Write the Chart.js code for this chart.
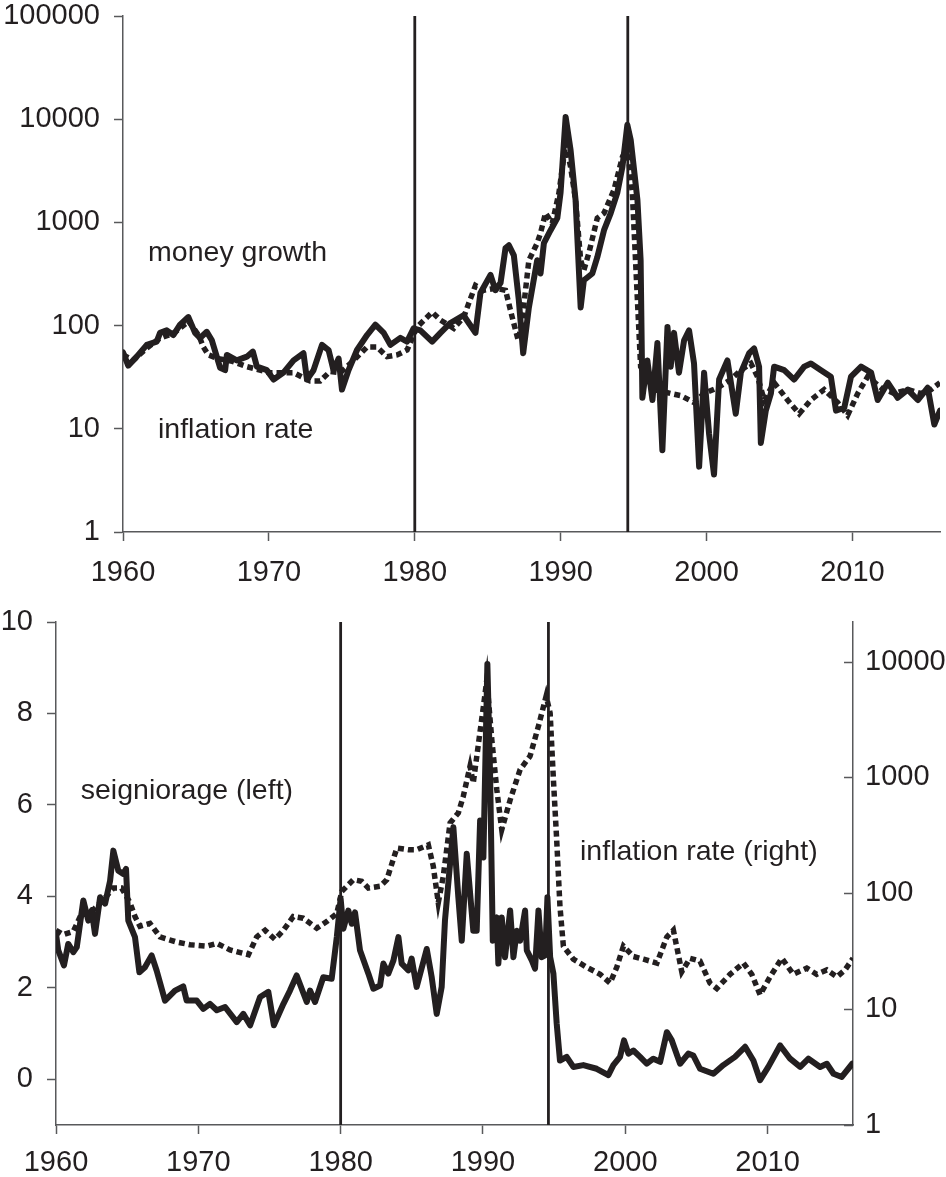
<!DOCTYPE html>
<html>
<head>
<meta charset="utf-8">
<script src="https://cdn.jsdelivr.net/npm/chart.js@4.4.1/dist/chart.umd.min.js"></script>
<style>
  html, body { margin: 0; padding: 0; background: #fff; }
  #wrap { position: relative; width: 946px; height: 1177px; }
  .panel { position: absolute; left: 0; width: 946px; }
</style>
</head>
<body>
<div id="wrap">
  <div class="panel" style="top:0;height:590px"><canvas id="topChart" width="946" height="590"></canvas></div>
  <div class="panel" style="top:590px;height:587px"><canvas id="bottomChart" width="946" height="587"></canvas></div>
</div>
<script>
// Money growth, inflation and seigniorage, 1960-2016 (two stacked panels).

const yearTicks = [1960, 1970, 1980, 1990, 2000, 2010];
const topLogTicks = [1, 10, 100, 1000, 10000, 100000];
const seignTicks = [0, 2, 4, 6, 8, 10];
const rightLogTicks = [1, 10, 100, 1000, 10000];
const breakYears = [1980, 1994.6];

// top panel, solid: money growth (% per year, log scale)
const moneyYears = [1960.0, 1960.36, 1960.94, 1961.63, 1962.31, 1962.54, 1963.0, 1963.45, 1963.91, 1964.48,
  1964.94, 1965.28, 1965.74, 1966.09, 1966.66, 1967.0, 1967.12, 1967.8, 1968.49, 1968.9,
  1969.18, 1969.86, 1970.32, 1971.0, 1971.69, 1972.37, 1972.61, 1973.06, 1973.64, 1974.09,
  1974.43, 1974.78, 1975.01, 1975.46, 1976.04, 1976.73, 1977.3, 1977.87, 1978.33, 1979.01,
  1979.47, 1979.92, 1980.38, 1981.19, 1981.76, 1982.44, 1983.34, 1983.7, 1984.16, 1984.5,
  1985.19, 1985.53, 1985.88, 1986.22, 1986.45, 1986.79, 1987.13, 1987.43, 1987.82, 1988.39,
  1988.62, 1988.85, 1989.31, 1989.77, 1989.99, 1990.34, 1990.68, 1991.02, 1991.37, 1991.59,
  1992.17, 1992.51, 1992.97, 1993.43, 1993.88, 1994.23, 1994.57, 1994.8, 1995.26, 1995.48,
  1995.6, 1995.94, 1996.29, 1996.63, 1996.97, 1997.32, 1997.54, 1997.77, 1998.11, 1998.46,
  1998.8, 1999.14, 1999.49, 1999.83, 2000.17, 2000.51, 2000.86, 2001.43, 2002.0, 2002.35,
  2002.92, 2003.26, 2003.6, 2003.72, 2004.06, 2004.41, 2004.63, 2005.32, 2006.0, 2006.69,
  2007.15, 2007.84, 2008.52, 2008.87, 2009.44, 2009.9, 2010.59, 2011.28, 2011.73, 2012.42,
  2013.1, 2013.79, 2014.48, 2015.16, 2015.61, 2016.0];
const moneyGrowth = [55, 41, 50, 65, 70, 85, 90, 81, 102, 121,
  85, 76, 87, 72, 39, 37, 52, 46, 50, 56,
  40, 37, 30, 35, 46, 54, 30, 37, 65, 58,
  37, 48, 24, 37, 58, 81, 102, 85, 65, 76,
  70, 94, 90, 70, 85, 106, 126, 106, 85, 207,
  310, 220, 260, 565, 600, 480, 177, 54, 150, 430,
  320, 630, 840, 1100, 1930, 10500, 5000, 1650, 150, 275,
  320, 460, 840, 1230, 1930, 3440, 8830, 6300, 1650, 430,
  20, 46, 19, 68, 6.2, 97, 40, 85, 35, 72,
  90, 43, 4.3, 35, 9, 3.6, 30, 46, 14, 35,
  54, 60, 40, 7.3, 15, 22, 40, 37, 30, 40,
  43, 37, 32, 15, 16, 32, 40, 35, 19, 28,
  20, 24, 19, 25, 11, 15];

// top panel, dotted: inflation rate (% per year, log scale)
const inflTopYears = [1960.0, 1960.69, 1961.6, 1962.5, 1963.5, 1964.5, 1965.2, 1965.51, 1965.85, 1966.5,
  1967.5, 1968.49, 1970.09, 1971.69, 1972.83, 1973.51, 1974.2, 1974.89, 1975.81, 1976.73,
  1977.41, 1978.1, 1978.79, 1979.47, 1980.16, 1981.19, 1981.76, 1982.67, 1983.36, 1983.7,
  1984.16, 1984.73, 1985.53, 1986.22, 1986.68, 1987.09, 1987.36, 1987.82, 1988.39, 1988.62,
  1988.96, 1989.42, 1989.88, 1990.34, 1990.68, 1991.02, 1991.37, 1991.59, 1991.94, 1992.51,
  1992.97, 1993.65, 1994.23, 1994.57, 1994.91, 1995.26, 1995.48, 1996.4, 1997.54, 1998.22,
  1999.14, 1999.83, 2000.75, 2001.66, 2002.35, 2003.04, 2003.49, 2003.95, 2004.63, 2005.55,
  2006.35, 2007.15, 2008.06, 2008.98, 2009.67, 2010.36, 2011.04, 2011.96, 2012.87, 2013.79,
  2014.7, 2015.39, 2016.0];
const inflTop = [52, 46, 60, 75, 85, 110, 80, 62, 52, 48,
  45, 40, 35, 35, 29, 29, 36, 35, 46, 62,
  62, 50, 52, 58, 97, 135, 113, 94, 121, 165,
  245, 220, 230, 220, 120, 72, 113, 430, 630, 790,
  1230, 980, 1930, 5800, 3440, 1650, 430, 345, 510, 1100,
  1230, 2060, 4300, 5400, 1930, 177, 40, 24, 22, 21,
  18, 22, 25, 30, 37, 43, 32, 19, 28, 19,
  14, 19, 24, 18, 13.5, 22, 32, 25, 22, 24,
  22, 24, 28];

// bottom panel, solid: seigniorage (% of GDP, left axis)
const seignYears = [1960.0, 1960.16, 1960.56, 1960.86, 1961.22, 1961.46, 1961.92, 1962.27, 1962.51, 1962.74,
  1963.1, 1963.45, 1963.8, 1964.03, 1964.38, 1964.73, 1964.92, 1965.08, 1965.55, 1965.86,
  1966.25, 1966.72, 1967.07, 1967.66, 1968.36, 1968.94, 1969.18, 1969.89, 1970.35, 1970.82,
  1971.3, 1971.88, 1972.7, 1973.16, 1973.64, 1974.34, 1974.92, 1975.31, 1975.98, 1976.44,
  1976.91, 1977.62, 1977.85, 1978.2, 1978.78, 1979.37, 1979.73, 1980.0, 1980.19, 1980.54,
  1980.78, 1981.01, 1981.36, 1981.95, 1982.3, 1982.77, 1983.0, 1983.35, 1983.71, 1984.06,
  1984.29, 1984.76, 1984.99, 1985.34, 1986.05, 1986.4, 1986.75, 1987.1, 1987.33, 1987.92,
  1988.27, 1988.51, 1988.86, 1989.32, 1989.56, 1989.8, 1990.03, 1990.31, 1990.5, 1990.69,
  1990.97, 1991.08, 1991.32, 1991.55, 1991.91, 1992.14, 1992.38, 1992.61, 1992.96, 1993.08,
  1993.43, 1993.66, 1993.9, 1994.13, 1994.37, 1994.53, 1994.72, 1994.95, 1995.18, 1995.41,
  1995.88, 1996.35, 1997.05, 1997.99, 1998.81, 1999.16, 1999.63, 1999.91, 2000.22, 2000.57,
  2001.04, 2001.51, 2001.97, 2002.45, 2002.92, 2003.27, 2003.85, 2004.43, 2004.78, 2005.25,
  2006.19, 2006.89, 2007.71, 2008.42, 2009.0, 2009.47, 2010.05, 2010.88, 2011.58, 2012.29,
  2012.87, 2013.69, 2014.16, 2014.63, 2015.21, 2015.95];
const seigniorage = [3.18, 2.82, 2.49, 2.96, 2.78, 2.89, 3.91, 3.47, 3.69, 3.18,
  3.98, 3.84, 4.34, 5.0, 4.56, 4.49, 4.6, 3.47, 3.11, 2.34,
  2.45, 2.71, 2.38, 1.72, 1.94, 2.03, 1.72, 1.72, 1.54, 1.65,
  1.51, 1.58, 1.25, 1.43, 1.18, 1.8, 1.91, 1.18, 1.65, 1.94,
  2.27, 1.69, 1.94, 1.69, 2.23, 2.2, 3.11, 3.95, 3.29, 3.69,
  3.4, 3.65, 2.82, 2.31, 1.98, 2.05, 2.53, 2.31, 2.6, 3.11,
  2.53, 2.38, 2.64, 2.02, 2.85, 2.23, 1.43, 2.02, 3.47, 5.51,
  3.98, 3.03, 4.93, 3.25, 3.25, 5.66, 4.85, 9.08, 6.67, 3.03,
  3.54, 2.53, 3.54, 2.67, 3.69, 2.67, 3.25, 3.03, 3.69, 2.82,
  2.6, 2.42, 3.69, 2.67, 2.71, 3.98, 2.67, 2.31, 1.22, 0.41,
  0.49, 0.27, 0.31, 0.23, 0.09, 0.31, 0.49, 0.85, 0.56, 0.63,
  0.49, 0.34, 0.45, 0.38, 1.03, 0.85, 0.34, 0.56, 0.52, 0.23,
  0.12, 0.31, 0.49, 0.71, 0.41, -0.02, 0.27, 0.74, 0.45, 0.27,
  0.45, 0.27, 0.34, 0.12, 0.05, 0.34];

// bottom panel, dotted: inflation rate (right axis, log scale)
const inflBotYears = [1960.0, 1960.51, 1961.22, 1961.92, 1962.62, 1963.33, 1964.03, 1964.61, 1965.2, 1965.55,
  1965.9, 1966.6, 1967.31, 1968.48, 1969.42, 1970.59, 1971.3, 1972.23, 1973.52, 1974.1,
  1974.69, 1975.39, 1975.98, 1976.67, 1977.37, 1978.32, 1979.02, 1979.73, 1980.08, 1980.89,
  1981.48, 1981.95, 1982.77, 1983.24, 1983.95, 1984.76, 1985.34, 1986.16, 1986.51, 1986.86,
  1987.21, 1987.69, 1988.27, 1988.62, 1989.09, 1989.32, 1990.03, 1990.27, 1990.62, 1990.97,
  1991.32, 1991.91, 1992.61, 1993.31, 1993.9, 1994.44, 1994.72, 1994.95, 1995.18, 1995.41,
  1995.65, 1996.35, 1997.29, 1998.23, 1998.93, 1999.4, 1999.87, 2000.57, 2001.28, 2002.22,
  2002.92, 2003.38, 2003.97, 2004.55, 2005.25, 2005.95, 2006.43, 2007.36, 2008.3, 2008.89,
  2009.47, 2010.17, 2011.0, 2011.81, 2012.75, 2013.45, 2014.16, 2014.87, 2015.44, 2016.0];
const inflBot = [48, 44, 47, 72, 72, 88, 111, 111, 83, 63,
  52, 55, 42, 38, 36, 35, 37, 32.5, 29.5, 42,
  48, 40, 48, 63, 61, 50, 57, 67, 104, 131,
  127, 111, 115, 131, 246, 238, 238, 262, 171, 83,
  140, 405, 495, 690, 1250, 900, 4100, 6950, 2130, 790,
  354, 640, 1170, 1530, 2780, 5050, 3600, 960, 290, 77,
  35, 27, 23, 20, 16.8, 23, 35, 28.5, 27, 25,
  42, 48, 21, 27.5, 26, 16.8, 15.1, 20, 25, 20,
  13.3, 19, 27.5, 20, 22.6, 20, 21.8, 19, 21.8, 27.5];

const INK = '#231f20';
const AXIS = '#58595b';
const FONT = "'Liberation Sans', Arial, Helvetica, sans-serif";
const TICK_FONT = { family: FONT, size: 29 };

function pairs(xs, ys) {
  return xs.map((x, i) => ({ x: x, y: ys[i] }));
}

function solid(data, axis) {
  return { data: data, yAxisID: axis, borderColor: INK, borderWidth: 6, pointRadius: 0,
           tension: 0, borderJoinStyle: 'round', borderCapStyle: 'round' };
}
function dotted(data, axis) {
  return { data: data, yAxisID: axis, borderColor: INK, borderWidth: 5.5, pointRadius: 0,
           tension: 0, borderDash: [6, 4], borderCapStyle: 'butt', borderJoinStyle: 'miter' };
}
function breakLine(year, lo, hi, axis) {
  return { data: [{ x: year, y: lo }, { x: year, y: hi }], yAxisID: axis, borderColor: INK,
           borderWidth: 2.8, pointRadius: 0 };
}

const setTicks = (vals) => (s) => { s.ticks = vals.map(v => ({ value: v })); };

// fixed axis width; drop the label overflow padding so the plot box sits where asked
const fixWidth = (w) => (s) => { s.width = w; s.paddingTop = 0; s.paddingBottom = 0; };

// axis text placed at data coordinates
const notesPlugin = {
  id: 'notes',
  afterDatasetsDraw(chart, args, opts) {
    const ctx = chart.ctx;
    ctx.save();
    ctx.font = '28.5px ' + FONT;
    ctx.fillStyle = INK;
    ctx.textAlign = 'left';
    ctx.textBaseline = 'middle';
    for (const n of opts.items || []) {
      ctx.fillText(n.text, chart.scales.x.getPixelForValue(n.x), chart.scales[n.axis].getPixelForValue(n.y));
    }
    ctx.restore();
  }
};

// right-hand axis of the lower panel has its tick marks pointing into the plot
const inwardTicksPlugin = {
  id: 'inwardTicks',
  afterDraw(chart, args, opts) {
    const s = chart.scales[opts.axis];
    if (!s) return;
    const ctx = chart.ctx;
    ctx.save();
    ctx.strokeStyle = AXIS;
    ctx.lineWidth = 1.5;
    ctx.beginPath();
    for (const t of s.ticks) {
      const y = Math.round(s.getPixelForValue(t.value)) + 0.5;
      ctx.moveTo(s.left, y);
      ctx.lineTo(s.left - 9, y);
    }
    ctx.stroke();
    ctx.restore();
  }
};

function xScale(height, pad) {
  return {
    type: 'linear', min: 1960, max: 2016,
    afterBuildTicks: setTicks(yearTicks),
    afterFit: (s) => { s.height = height; },
    grid: { drawOnChartArea: false, drawTicks: true, tickLength: 9, tickColor: AXIS, tickWidth: 1.5 },
    border: { color: AXIS, width: 1.5 },
    ticks: { font: TICK_FONT, color: INK, padding: pad, maxRotation: 0, callback: (v) => String(v) }
  };
}

const baseOptions = {
  responsive: false,
  animation: false,
  events: [],
  plugins: { legend: { display: false }, tooltip: { enabled: false } }
};

new Chart(document.getElementById('topChart'), {
  type: 'line',
  data: {
    datasets: [
      solid(pairs(moneyYears, moneyGrowth), 'y'),
      dotted(pairs(inflTopYears, inflTop), 'y'),
      ...breakYears.map(yr => breakLine(yr, 1, 100000, 'y'))
    ]
  },
  options: {
    ...baseOptions,
    layout: { padding: { top: 16, right: 6, left: 0, bottom: 0 } },
    scales: {
      x: xScale(58, 15),
      y: {
        type: 'logarithmic', min: 1, max: 100000,
        afterBuildTicks: setTicks(topLogTicks),
        afterFit: fixWidth(123),
        grid: { drawOnChartArea: false, drawTicks: true, tickLength: 9, tickColor: AXIS, tickWidth: 1.5 },
        border: { color: AXIS, width: 1.5 },
        ticks: { font: TICK_FONT, color: INK, padding: 14, callback: (v) => String(v) }
      }
    },
    plugins: {
      ...baseOptions.plugins,
      notes: { items: [
        { text: 'money growth', x: 1961.72, y: 505, axis: 'y' },
        { text: 'inflation rate', x: 1962.4, y: 9.7, axis: 'y' }
      ] }
    }
  },
  plugins: [notesPlugin]
});

new Chart(document.getElementById('bottomChart'), {
  type: 'line',
  data: {
    datasets: [
      solid(pairs(seignYears, seigniorage), 'y'),
      dotted(pairs(inflBotYears, inflBot), 'y2'),
      ...breakYears.map(yr => breakLine(yr, -1, 10, 'y'))
    ]
  },
  options: {
    ...baseOptions,
    layout: { padding: { top: 32, right: 0, left: 0, bottom: 0 } },
    scales: {
      x: xScale(52, 12),
      y: {
        type: 'linear', position: 'left', min: -1, max: 10,
        afterBuildTicks: setTicks(seignTicks),
        afterFit: fixWidth(56),
        grid: { drawOnChartArea: false, drawTicks: true, tickLength: 9, tickColor: AXIS, tickWidth: 1.5 },
        border: { color: AXIS, width: 1.5 },
        ticks: { font: TICK_FONT, color: INK, padding: 14, callback: (v) => String(v) }
      },
      y2: {
        type: 'logarithmic', position: 'right', min: 1, max: 22000,
        afterBuildTicks: setTicks(rightLogTicks),
        afterFit: fixWidth(93),
        grid: { drawOnChartArea: false, drawTicks: false },
        border: { color: AXIS, width: 1.5 },
        ticks: { font: TICK_FONT, color: INK, padding: 12, callback: (v) => String(v) }
      }
    },
    plugins: {
      ...baseOptions.plugins,
      notes: { items: [
        { text: 'seigniorage (left)', x: 1961.74, y: 6.31, axis: 'y' },
        { text: 'inflation rate (right)', x: 1996.82, y: 4.96, axis: 'y' }
      ] },
      inwardTicks: { axis: 'y2' }
    }
  },
  plugins: [notesPlugin, inwardTicksPlugin]
});
</script>
</body>
</html>
